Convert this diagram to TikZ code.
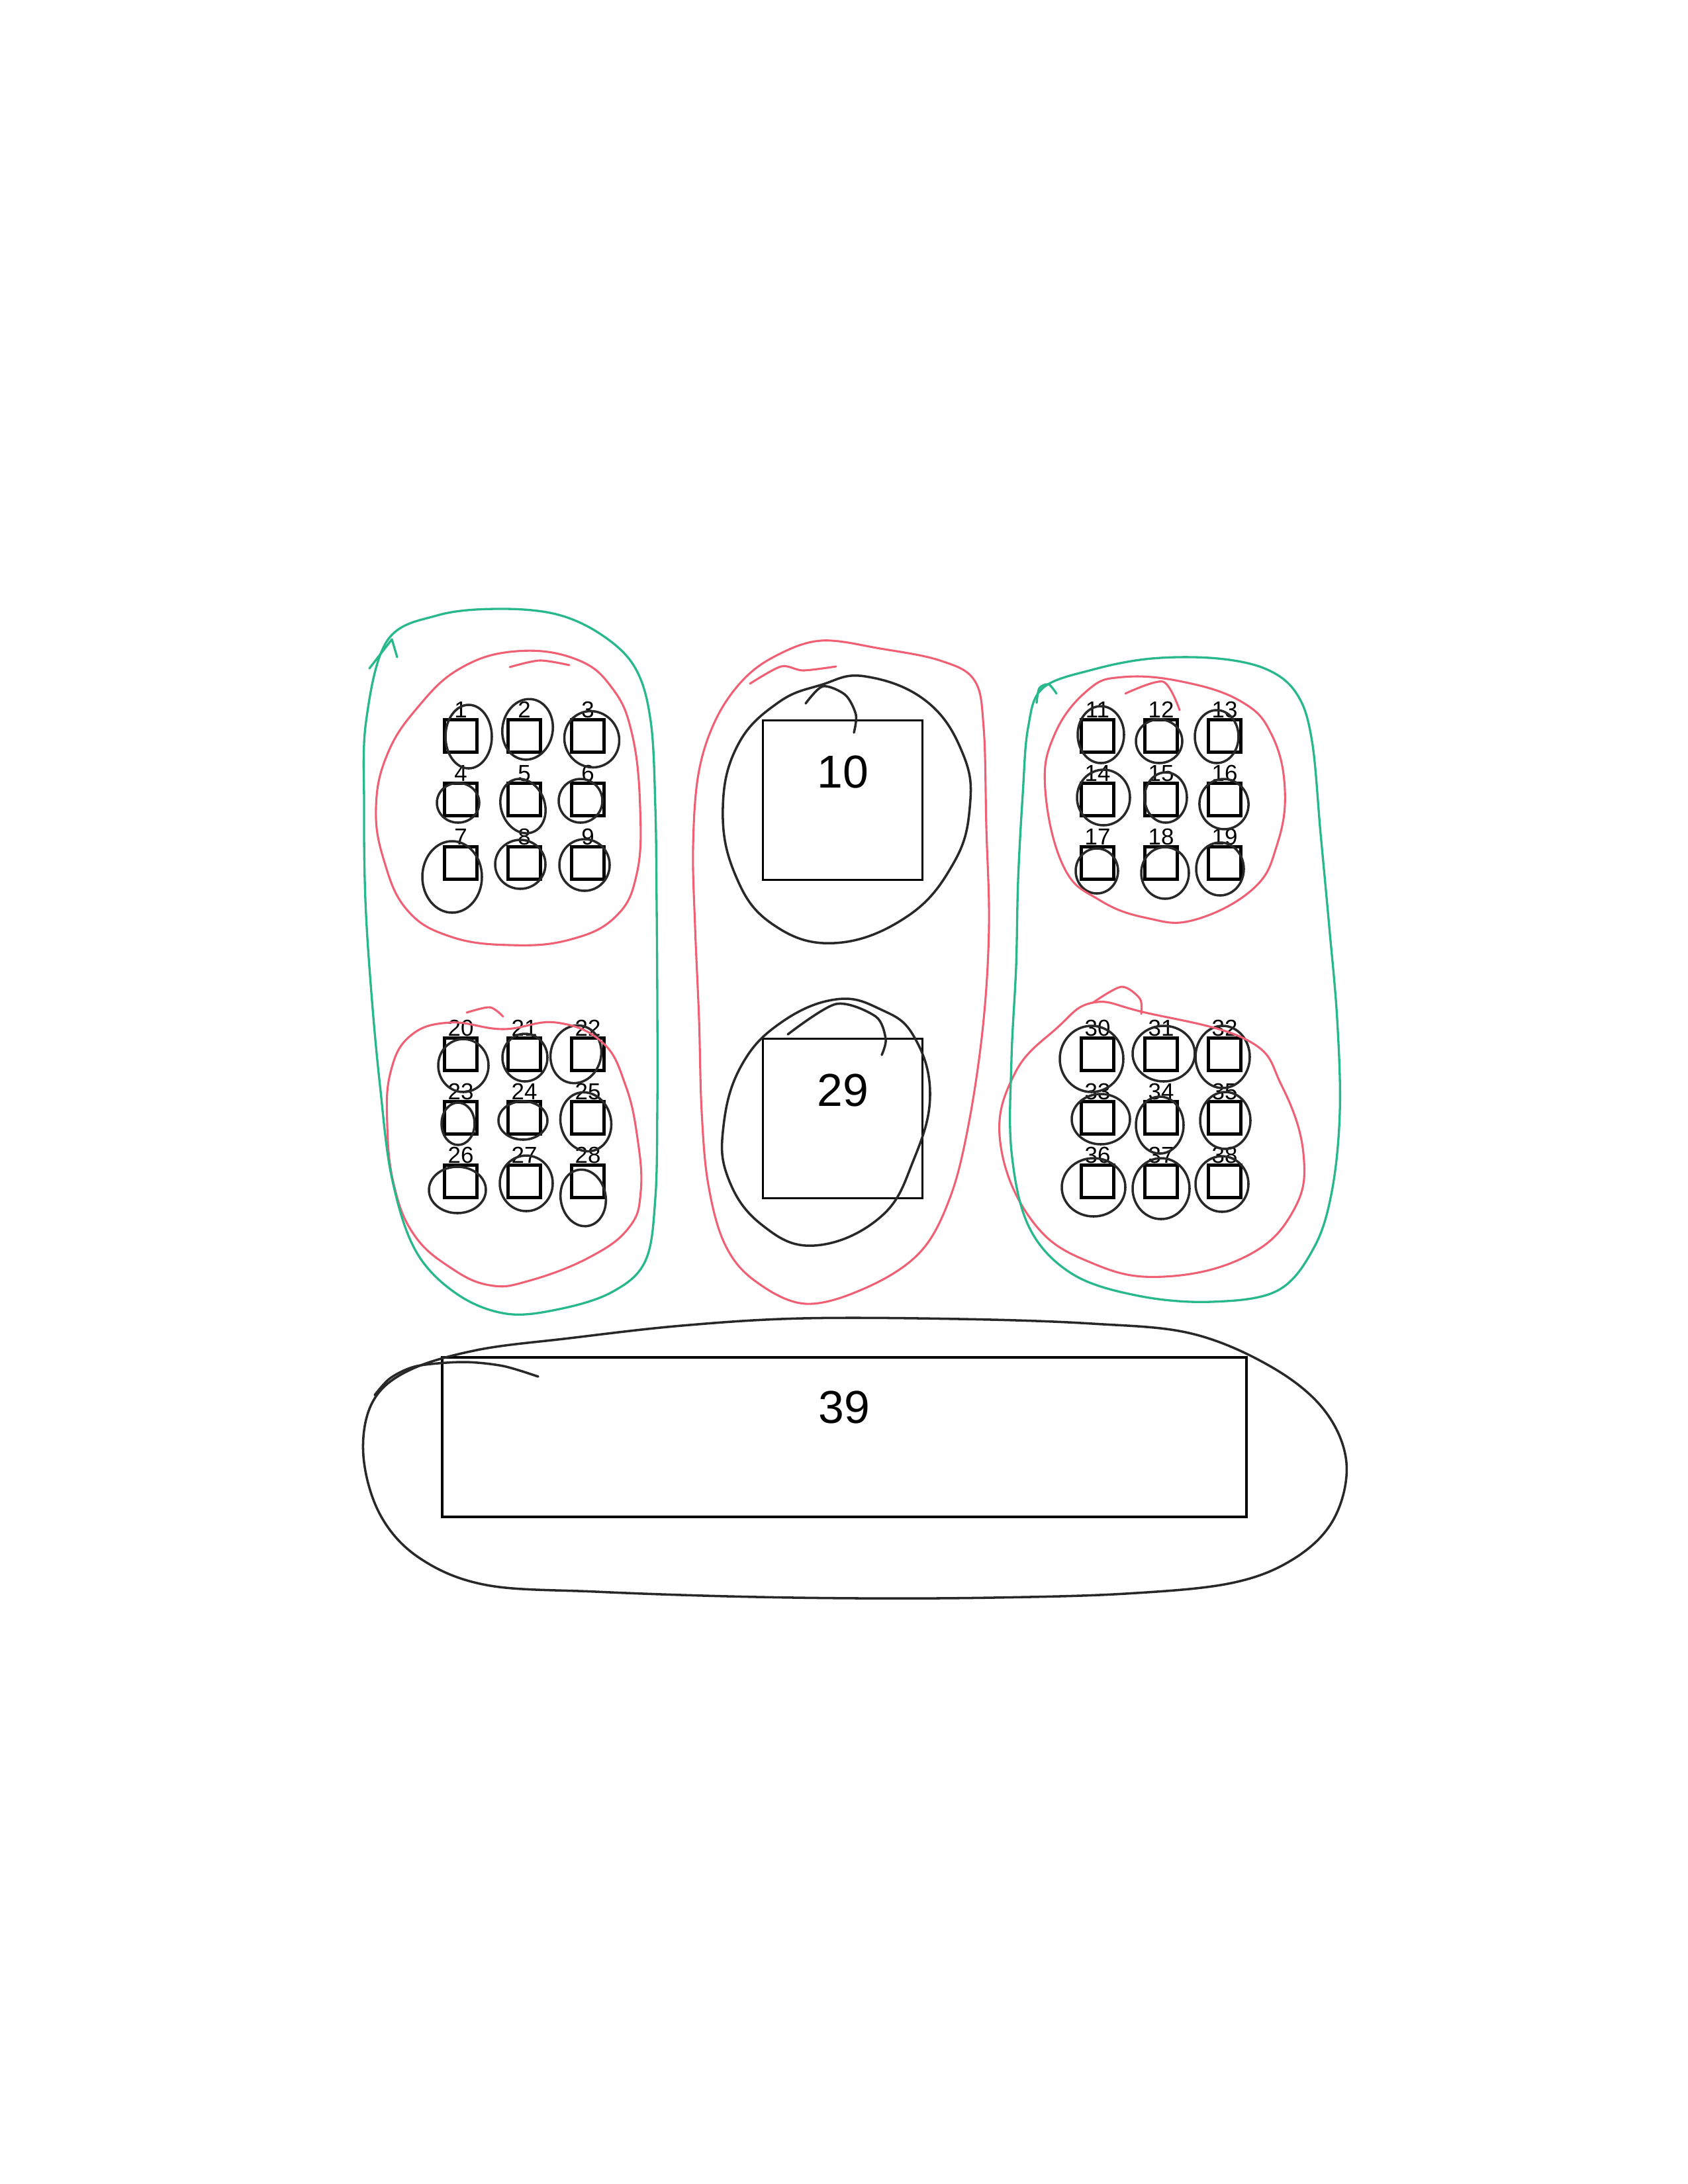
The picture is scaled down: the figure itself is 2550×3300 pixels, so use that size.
\documentclass[tikz,border=0pt]{standalone}
\usepackage{fontspec}
\setmainfont{Liberation Sans}
\usetikzlibrary{positioning}
\definecolor{penGreen}{RGB}{40,184,140}
\definecolor{penRed}{RGB}{240,96,116}
\definecolor{penInk}{RGB}{40,40,40}

\begin{document}
\begin{tikzpicture}[x=0.0846667mm,y=-0.0846667mm]
    \tikzstyle{cell}=[draw, line width=1pt, minimum size=4.15mm, inner sep=0pt]
    \tikzstyle{cellnum}=[inner sep=0pt, font=\fontsize{8.4}{10}\selectfont]
    \tikzstyle{bigcell}=[draw, line width=0.9pt, minimum size=20.4mm, inner sep=0pt]
    \tikzstyle{bignum}=[inner sep=0pt, font=\fontsize{16.8}{20}\selectfont]
    \tikzstyle{inkloop}=[penInk, line width=0.85pt, line cap=round]
    \tikzstyle{greenloop}=[penGreen, line width=0.8pt, line cap=round, line join=round]
    \tikzstyle{redloop}=[penRed, line width=0.75pt, line cap=round, line join=round]

    \useasboundingbox (0,0) rectangle (2550,3300);

    % Small cells, four blocks of nine
    \foreach \base/\bx/\by in {1/696/1112, 11/1658/1112, 20/696/1593, 30/1658/1593} {
        \foreach \r in {0,1,2} {
            \foreach \c in {0,1,2} {
                \pgfmathtruncatemacro{\n}{\base+3*\r+\c}
                \node[cell, label={[cellnum]above:\n}] (sq\n) at ({\bx+96*\c},{\by+96*\r}) {};
            }
        }
    }

    % Large cells
    \node[bigcell] (sq10) at (1273,1209) {};
    \node[bignum, below=4.6mm of sq10.north] (num10) {10};
    \node[bigcell] (sq29) at (1273,1690) {};
    \node[bignum, below=4.6mm of sq29.north] (num29) {29};
    \node[draw, line width=0.9pt, minimum width=102.9mm, minimum height=20.4mm, inner sep=0pt]
        (sq39) at (1275.5,2171.5) {};
    \node[bignum, below=4.4mm of sq39.north] (num39) {39};

    % Hand loops round the small cells
    \foreach \cx/\cy/\rx/\ry/\rot in {
        708/1113/35/48/0, 797/1102/38/46/-10, 894/1117/41/43/30,
        692/1213/32/30/0, 790/1218/33/42/20, 877/1210/33/33/0,
        683/1325/45/54/0, 786/1306/38/37/0, 883/1307/38/39/0,
        700/1610/38/40/0, 793/1598/34/36/0, 870/1593/38/44/-15,
        692/1698/25/32/0, 790/1693/37/29/0, 885/1695/38/45/15,
        691/1798/43/35/0, 795/1788/40/42/0, 881/1810/34/43/10,
        1663/1110/35/43/0, 1751/1120/35/33/0, 1838/1113/33/40/0,
        1667/1205/40/42/0, 1761/1205/32/38/0, 1849/1215/37/38/15,
        1657/1316/32/34/0, 1760/1319/36/39/0, 1843/1313/36/40/0,
        1649/1600/48/50/0, 1758/1592/47/42/0, 1847/1597/41/47/0,
        1663/1691/44/38/0, 1752/1700/36/43/0, 1851/1693/38/43/0,
        1652/1794/48/44/0, 1754/1796/43/46/0, 1846/1789/40/42/0}
        \draw[inkloop, rotate around={\rot:(\cx,\cy)}] (\cx,\cy) ellipse [x radius=\rx, y radius=\ry];

    % Loops round the large cells
    \draw[inkloop] plot[smooth cycle, tension=0.7] coordinates {
        (1307,1022) (1400,1060) (1455,1140) (1465,1220) (1440,1305) (1370,1385) (1260,1425)
        (1165,1395) (1110,1320) (1092,1220) (1115,1125) (1175,1062) (1240,1035)};
    \draw[inkloop] plot[smooth] coordinates {(1217,1063) (1243,1037) (1277,1050) (1293,1080) (1290,1107)};
    \draw[inkloop] plot[smooth cycle, tension=0.7] coordinates {
        (1263,1510) (1330,1525) (1380,1565) (1405,1653) (1380,1753) (1330,1839) (1230,1882)
        (1150,1850) (1100,1780) (1093,1701) (1120,1610) (1180,1545)};
    \draw[inkloop] plot[smooth] coordinates {(1190,1563) (1263,1517) (1323,1536) (1338,1570) (1332,1594)};
    \draw[inkloop] plot[smooth cycle, tension=0.6] coordinates {
        (1212,1992) (1450,1993) (1650,2000) (1800,2015) (1920,2065) (2000,2130) (2034,2210)
        (2015,2295) (1955,2355) (1860,2392) (1700,2408) (1500,2414) (1300,2415) (1100,2412)
        (900,2405) (735,2395) (635,2355) (575,2290) (549,2200) (562,2120) (615,2072)
        (720,2040) (860,2022) (1030,2003)};
    \draw[inkloop] plot[smooth] coordinates {(813,2080) (760,2064) (700,2058) (630,2064) (590,2082) (566,2108)};

    % Red groups
    \draw[redloop] plot[smooth cycle, tension=0.7] coordinates {
        (780,984) (870,996) (925,1040) (955,1110) (967,1220) (962,1320) (930,1385) (860,1420)
        (770,1428) (680,1415) (615,1375) (580,1300) (568,1220) (585,1140) (630,1070) (695,1010)};
    \draw[redloop] plot[smooth] coordinates {(770,1008) (815,998) (860,1005)};
    \draw[redloop] plot[smooth cycle, tension=0.7] coordinates {
        (840,1545) (910,1575) (945,1640) (963,1720) (968,1800) (950,1855) (890,1900) (800,1935)
        (740,1942) (680,1915) (625,1865) (595,1790) (585,1700) (590,1620) (620,1565) (680,1545) (760,1555)};
    \draw[redloop] plot[smooth] coordinates {(705,1530) (740,1522) (760,1536)};
    \draw[redloop] plot[smooth cycle, tension=0.6] coordinates {
        (1170,992) (1240,968) (1330,980) (1420,998) (1472,1028) (1486,1100) (1490,1250)
        (1494,1400) (1485,1550) (1463,1700) (1435,1810) (1390,1892) (1310,1945) (1217,1970)
        (1140,1935) (1095,1880) (1070,1790) (1060,1680) (1056,1540) (1050,1400) (1047,1280)
        (1055,1170) (1080,1090) (1120,1030)};
    \draw[redloop] plot[smooth] coordinates {(1133,1033) (1180,1007) (1213,1013) (1263,1007)};
    \draw[redloop] plot[smooth cycle, tension=0.7] coordinates {
        (1696,1023) (1786,1030) (1875,1060) (1921,1110) (1941,1193) (1929,1277) (1893,1343)
        (1804,1390) (1732,1387) (1661,1360) (1607,1310) (1579,1193) (1593,1110) (1643,1043)};
    \draw[redloop] plot[smooth] coordinates {(1700,1048) (1757,1030) (1782,1073)};
    \draw[redloop] plot[smooth cycle, tension=0.7] coordinates {
        (1726,1529) (1883,1571) (1936,1640) (1969,1743) (1954,1829) (1883,1898) (1758,1929)
        (1651,1909) (1561,1847) (1511,1726) (1533,1622) (1597,1553) (1651,1515)};
    \draw[redloop] plot[smooth] coordinates {(1651,1515) (1694,1491) (1722,1509) (1724,1532)};

    % Green columns
    \draw[greenloop] plot[smooth cycle, tension=0.6] coordinates {
        (585,968) (660,930) (750,920) (840,928) (910,960) (960,1010) (983,1090) (990,1220)
        (992,1370) (993,1520) (993,1670) (990,1810) (975,1905) (925,1952) (845,1978) (765,1985)
        (690,1955) (628,1890) (592,1780) (574,1640) (561,1500) (552,1360) (550,1220) (553,1090)};
    \draw[greenloop] (558,1010) -- (592,966) -- (600,993);
    \draw[greenloop] plot[smooth cycle, tension=0.6] coordinates {
        (1575,1040) (1650,1012) (1740,995) (1840,995) (1915,1012) (1960,1050) (1982,1120)
        (1995,1260) (2008,1400) (2020,1540) (2024,1680) (2012,1800) (1985,1885) (1930,1950)
        (1830,1967) (1720,1958) (1620,1925) (1555,1855) (1528,1740) (1528,1600) (1535,1460)
        (1538,1330) (1545,1200) (1553,1100)};
    \draw[greenloop] plot[smooth] coordinates {(1566,1062) (1570,1040) (1584,1034) (1596,1048)};
\end{tikzpicture}
\end{document}
